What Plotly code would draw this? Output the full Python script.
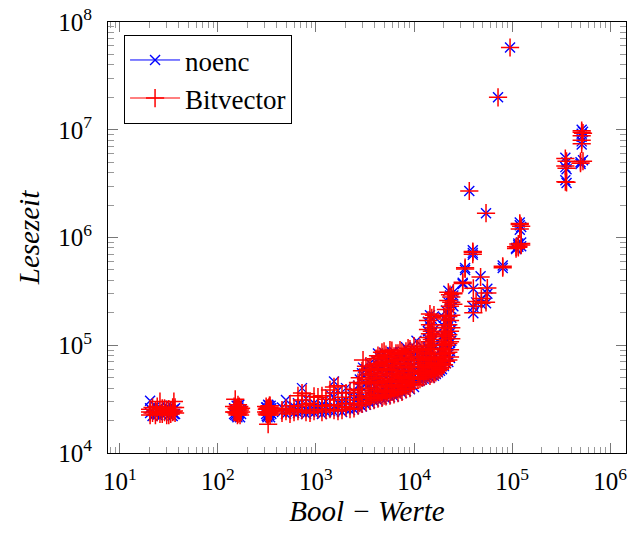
import plotly.graph_objects as go

# x positions (number of Bool values); each group holds one or more measurements
x_groups = [
    20.3, 21.5, 23, 24, 25.6, 27, 28.5, 30, 31.5, 33, 34.5, 35.5, 36.5,
    146, 150, 155, 158, 160, 162, 165, 168, 172,
    310, 315, 320, 325, 330, 335, 340, 345, 350,
    450, 494, 543, 597, 655, 720, 791, 869, 955, 1048, 1151, 1265, 1390,
    1527, 1677, 1843, 2024, 2223, 2442, 2683, 2946, 3020, 3237, 3556, 3906,
    4290, 4713, 5177, 5687, 6247, 6862, 7538, 8280, 9096, 10000, 10600,
    10975, 12056, 13243, 14548, 15980, 17554, 19283, 21182, 22400, 24000, 25200,
    2800, 3400, 3700, 4100, 4500, 4950, 5400, 5950, 6550, 7200, 7900, 8700, 9500,
    11500, 12600, 13900, 15200, 16700, 18400, 20200, 23300,
    31400, 33200, 36650, 39800, 40300, 43000, 47800, 48700, 54300, 56000,
    72000, 80400, 95500, 110000, 116000, 120000, 124000,
    350000, 360000, 500000, 514000, 530000,
]

noenc_groups = [
    [30500, 23500, 26000], [24500, 22000], [23000, 27000], [25500, 22500], [24000, 26500], [22500, 25000],
    [25000, 23000], [23500, 27000], [26000, 22500], [24500, 27500], [22000, 25000], [25500, 23000], [23000, 26000],
    [23000, 26000], [25500, 22500], [22000, 27500], [24500, 21500], [27500, 24000], [26500, 23000],
    [23500, 28000], [21500, 25500], [25000, 23000],
    [23000, 26500], [26500, 22000], [21500, 25000], [24500, 28000], [27500, 23500], [22500, 26000],
    [25000, 21500], [23500, 27500], [26000, 23000],
    [24000, 26500], [31000, 23000], [24500, 26000], [23500, 27000], [25000, 29000, 23500],
    [40000, 27500, 24000], [32000, 25500, 23000], [26500, 24000], [25500, 23500, 29000],
    [27000, 24500], [25000, 28000, 23000], [26000, 24000, 30000], [35000, 26500, 24500],
    [46000, 33000, 27000, 24000], [38000, 29000, 25500], [30000, 26000, 24000],
    [40000, 31000, 25500], [34000, 27500, 25000], [37000, 29500, 25500], [42000, 32000, 26500],
    [55000, 40000, 30000, 27000], [62000], [60000, 45000, 33000, 28000], [68000, 50000, 38000, 29000],
    [63000, 47000, 36000, 30000], [84000, 65000, 48000, 36000, 30500], [80000, 62000, 46000, 35000, 31500],
    [78000, 60000, 45000, 36000, 32000], [82000, 65000, 50000, 39000, 33000], [87000, 68000, 52000, 41000, 33500],
    [78000, 62000, 48000, 39000, 34500], [82000, 64000, 50000, 40000, 36000], [96000, 70000, 55000, 43000, 37500],
    [88000, 68000, 54000, 44000, 39000], [95000, 75000, 58000, 47000, 41000], [110000],
    [88000, 70000, 56000, 46000], [85000, 68000, 56000, 48000], [88000, 72000, 60000, 50000],
    [190000, 150000, 125000, 105000, 88000, 72000, 60000, 50000],
    [185000, 140000, 118000, 98000, 80000, 65000, 55000, 52000],
    [75000, 62000, 56000], [120000, 95000, 78000, 65000, 60000],
    [210000, 170000, 140000, 115000, 95000, 80000, 68000],
    [320000, 250000, 190000, 150000, 120000, 100000, 82000, 70000],
    [270000, 245000, 180000, 140000, 110000], [310000, 290000, 230000],
    [48000, 36000, 28000], [56000, 42000, 31000], [58000, 44000, 33000], [72000, 55000, 42000, 33000],
    [76000, 58000, 44000, 34000], [85000, 68000, 52000, 40000, 33000], [74000, 57000, 43000, 35000],
    [86000, 70000, 56000, 44000, 36000], [80000, 60000, 47000, 37000], [86000, 70000, 56000, 45000, 38000],
    [78000, 60000, 48000, 40000], [90000, 74000, 60000, 49000, 41000], [82000, 64000, 52000, 43000],
    [90000, 75000, 62000, 52000, 47000], [82000, 66000, 54000, 49000],
    [165000, 135000, 115000, 95000, 80000, 64000, 53000], [175000, 130000, 110000, 90000, 74000, 60000, 53000],
    [70000, 60000, 54000], [90000, 74000, 64000, 58000],
    [180000, 150000, 125000, 105000, 88000, 74000, 64000], [290000, 220000, 165000, 130000, 105000, 88000, 76000],
    [380000, 370000], [520000, 500000], [2700000], [720000, 690000, 760000],
    [335000, 226000, 198000], [250000], [436000], [270000, 240000], [1680000, 245000], [335000, 300000],
    [20000000], [520000, 550000], [58000000], [800000, 780000], [850000, 820000, 880000],
    [1380000, 1300000, 1180000], [1250000, 900000, 830000],
    [5500000, 4500000, 3400000], [5000000, 4300000, 3200000], [5000000, 4800000],
    [10000000, 9200000, 8600000, 7800000, 7300000], [5200000, 9600000],
]

bitvector_groups = [
    [24000, 25500, 22500], [23500, 26500], [24500, 22500], [27000, 24000], [30000, 23000], [23000, 26000],
    [26000, 24000], [24500, 22500], [22500, 25500], [25000, 23000], [24000, 26500], [30000, 24500], [26500, 23500],
    [24000, 27000], [31500, 24000], [23500, 26000], [25500, 22500], [23000, 28000], [24500, 26500],
    [27000, 23500], [22500, 25000], [26000, 24000],
    [24000, 27000], [25500, 23000], [22500, 26000], [18500, 24000], [26500, 23000], [23500, 27500],
    [27500, 22500], [24500, 26000], [25000, 24500],
    [25000, 23500], [24500, 26000], [23000, 27500], [25500, 24000], [34000, 27000, 24500],
    [36000, 31000, 25000], [35500, 28000, 24000], [29000, 23500], [27500, 24500, 33500],
    [33000, 25500], [34000, 27000, 24000], [27500, 25000, 31500], [38500, 28000, 25500],
    [41000, 36000, 28000, 25000], [42000, 31000, 24500], [33000, 27000, 25000],
    [36000, 29000, 26500], [36500, 28500, 25500], [39000, 31000, 26000], [45000, 34000, 27500],
    [58000, 44000, 32000, 28500], [73000], [64000, 48000, 36000, 29500], [63000, 53000, 40000, 30500],
    [66000, 50000, 38000, 31000], [80000, 68000, 52000, 38000, 32000], [86000, 66000, 49000, 37000, 32500],
    [82000, 64000, 47000, 38000, 33500], [90000, 70000, 53000, 41000, 34000], [79000, 72000, 55000, 43000, 35000],
    [84000, 66000, 51000, 41000, 36000], [86000, 68000, 53000, 42000, 37000], [88000, 74000, 58000, 45000, 39000],
    [92000, 72000, 57000, 46000, 40000], [98000, 78000, 62000, 49000, 43000], [92000],
    [93000, 74000, 59000, 48500], [90000, 72000, 58000, 50000], [93000, 75000, 62000, 52000],
    [195000, 155000, 128000, 108000, 92000, 75000, 62000, 52000],
    [190000, 146000, 122000, 102000, 84000, 68000, 57000, 54000],
    [78000, 65000, 58000], [125000, 100000, 82000, 68000, 62000],
    [215000, 175000, 145000, 120000, 100000, 84000, 71000],
    [310000, 260000, 185000, 155000, 125000, 104000, 86000, 73000],
    [280000, 250000, 190000, 145000, 115000], [305000, 300000, 240000],
    [50000, 38000, 29000], [60000, 45000, 33000], [55000, 46000, 34000], [75000, 58000, 44000, 34500],
    [78000, 61000, 46000, 35000], [88000, 70000, 55000, 42000, 34000], [77000, 60000, 45000, 36500],
    [89000, 73000, 58000, 46000, 37000], [84000, 63000, 49000, 38500], [90000, 73000, 58000, 47000, 39000],
    [82000, 63000, 50000, 41500], [94000, 77000, 62000, 51000, 42000], [86000, 67000, 54000, 44500],
    [94000, 78000, 64000, 54000, 48500], [86000, 69000, 56000, 50500],
    [170000, 140000, 118000, 98000, 83000, 66000, 55000], [180000, 135000, 113000, 93000, 76000, 62000, 54500],
    [73000, 62000, 56000], [94000, 77000, 66000, 60000],
    [185000, 155000, 130000, 108000, 91000, 77000, 66000], [295000, 230000, 170000, 135000, 108000, 91000, 78000],
    [385000, 375000], [525000, 510000], [2700000], [730000, 700000, 740000],
    [338000, 230000, 200000], [255000], [430000], [272000, 245000], [1680000, 250000], [340000, 305000],
    [20000000], [525000, 540000], [58000000], [820000, 790000], [830000, 810000, 870000],
    [1350000, 1320000, 1200000], [1270000, 880000, 850000],
    [5400000, 4600000, 3300000], [5100000, 4400000, 3250000], [5050000, 4900000],
    [9800000, 9500000, 8800000, 8000000, 7400000], [5100000, 9300000],
]

x_decades = [1, 2, 3, 4, 5, 6]
y_decades = [4, 5, 6, 7, 8]


def flatten(xs, groups):
    fx, fy = [], []
    for x, ys in zip(xs, groups):
        for y in ys:
            fx.append(x)
            fy.append(y)
    return fx, fy


def minor_vals(lo, hi):
    vals = []
    for d in range(lo, hi + 1):
        for m in range(2, 10):
            vals.append(m * 10 ** d)
    return vals


nx, ny = flatten(x_groups, noenc_groups)
bx, by = flatten(x_groups, bitvector_groups)

SERIF = "Liberation Serif"
NOENC_MARK = dict(symbol="x-thin", size=10, color="blue", line=dict(color="blue", width=1.4))
BIT_MARK = dict(symbol="cross-thin", size=13, color="red", line=dict(color="red", width=1.5))

fig = go.Figure()
fig.add_trace(go.Scatter(x=nx, y=ny, mode="markers", name="noenc", showlegend=False, marker=NOENC_MARK))
fig.add_trace(go.Scatter(x=bx, y=by, mode="markers", name="Bitvector", showlegend=False, marker=BIT_MARK))
# legend entries (line + mark as in the original)
fig.add_trace(go.Scatter(x=[None], y=[None], mode="lines+markers", name="noenc",
                         line=dict(color="blue", width=1), marker=NOENC_MARK))
fig.add_trace(go.Scatter(x=[None], y=[None], mode="lines+markers", name="Bitvector",
                         line=dict(color="#ff5555", width=1.5), marker=BIT_MARK))


def axis(decades, lo, hi):
    return dict(
        type="log",
        automargin=False,
        showgrid=False,
        zeroline=False,
        showline=True,
        linecolor="black",
        linewidth=1,
        mirror="ticks",
        ticks="inside",
        ticklen=10,
        tickwidth=1,
        tickcolor="#777777",
        tickmode="array",
        tickvals=[10 ** d for d in decades],
        ticktext=["10<sup>%d</sup>" % d for d in decades],
        ticklabeloverflow="allow",
        tickfont=dict(family=SERIF, size=25, color="black"),
        minor=dict(ticks="inside", ticklen=6, tickwidth=1, tickcolor="#999999",
                   tickmode="array", tickvals=minor_vals(lo, hi), showgrid=False),
    )


fig.update_layout(
    width=631, height=537,
    margin=dict(l=108, r=5, t=22, b=84),
    paper_bgcolor="white", plot_bgcolor="white",
    font=dict(family=SERIF, color="black"),
    xaxis=dict(axis(x_decades, 0, 6), range=[0.878, 6.163], ticklabelstandoff=6,
               title=dict(text="<i>Bool − Werte</i>", font=dict(family=SERIF, size=29), standoff=0)),
    yaxis=dict(axis(y_decades, 3, 8), range=[4, 8], ticklabelstandoff=10,
               title=dict(text="<i>Lesezeit</i>", font=dict(family=SERIF, size=29), standoff=10)),
    legend=dict(
        x=0.031, y=0.97, xanchor="left", yanchor="top",
        bgcolor="white", bordercolor="black", borderwidth=1,
        font=dict(family=SERIF, size=27, color="black"),
        itemwidth=50, tracegroupgap=0,
    ),
)

# remove the browser's default 8px body margin so the figure fills the window
fig.write_html("out.html", config={"displayModeBar": False},
               post_script="document.body.style.margin='0px';")
